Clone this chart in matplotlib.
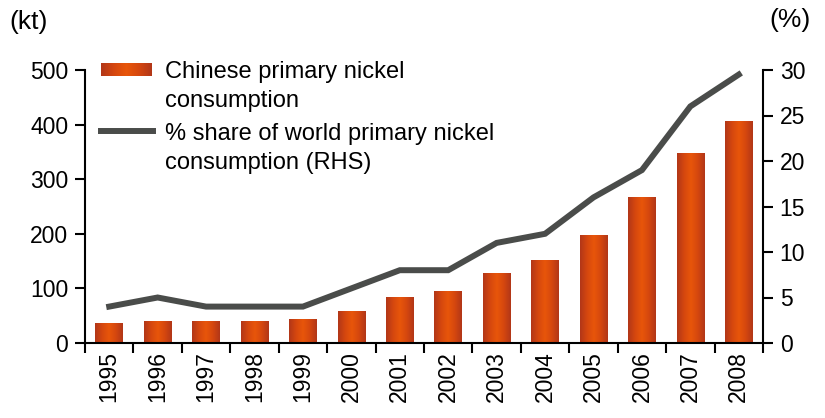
import numpy as np
import matplotlib.pyplot as plt
from matplotlib.colors import LinearSegmentedColormap

plt.rcParams['font.family'] = ['Liberation Sans', 'DejaVu Sans']

# Chinese primary nickel consumption (kt) and share of world consumption (%)
years = ['1995', '1996', '1997', '1998', '1999', '2000', '2001',
         '2002', '2003', '2004', '2005', '2006', '2007', '2008']
consumption_kt = [37, 40, 40, 40, 44, 59, 84, 95, 128, 152, 198, 267, 348, 406]
share_pct = [4, 5, 4, 4, 4, 6, 8, 8, 11, 12, 16, 19, 26, 29.5]

W, H = 825, 418
fig = plt.figure(figsize=(W / 100, H / 100), dpi=100)

def fx(px):
    return px / W

def fy(py):
    return 1 - py / H

# axes box in pixels: left 85, right 763, top 70, bottom 343
ax = fig.add_axes([fx(85), fy(343), fx(763) - fx(85), fy(70) - fy(343)])
ax2 = ax.twinx()

bar_cmap = LinearSegmentedColormap.from_list(
    'bar', ['#b23718', '#d5470f', '#e8560a', '#d5470f', '#b23718'])
grad = np.linspace(0, 1, 64).reshape(1, -1)

x = np.arange(len(years))
bars = ax.bar(x, consumption_kt, width=0.57, color='none', edgecolor='none')
for b in bars:
    x0, w, h = b.get_x(), b.get_width(), b.get_height()
    im = ax.imshow(grad, cmap=bar_cmap, aspect='auto',
                   extent=[x0, x0 + w, 0, h], zorder=2)
    im.set_clip_path(b)

ax.set_xlim(-0.5, len(years) - 0.5)
ax.set_ylim(0, 500)
ax.set_yticks([0, 100, 200, 300, 400, 500])

ax2.plot(x, share_pct, color='#4a4c4a', linewidth=4.3, solid_joinstyle='miter')
ax2.set_ylim(0, 30)
ax2.set_yticks([0, 5, 10, 15, 20, 25, 30])
ax2.set_xlim(-0.5, len(years) - 0.5)

# category labels centred, tick marks on the category boundaries
ax.set_xticks(x)
ax.set_xticklabels(years, rotation=90, fontsize=16.5)
ax.set_xticks(np.arange(-0.5, len(years), 1.0), minor=True)
ax.tick_params(axis='x', which='major', length=0, pad=6)
ax.tick_params(axis='x', which='minor', length=7, width=1.5, direction='out')
ax.tick_params(axis='y', labelsize=16.5, length=7, width=1.5, direction='out', pad=5)
ax2.tick_params(axis='y', labelsize=16.5, length=7, width=1.5, direction='out', pad=5)

for a in (ax, ax2):
    a.spines['top'].set_visible(False)
    for s in ('left', 'right', 'bottom'):
        a.spines[s].set_linewidth(1.5)
ax2.spines['left'].set_visible(False)
ax2.spines['bottom'].set_visible(False)
ax.spines['right'].set_visible(False)

fig.text(fx(9), fy(22), '(kt)', fontsize=19, va='center', ha='left')
fig.text(fx(811), fy(20), '(%)', fontsize=19, va='center', ha='right')

# legend drawn by hand
leg_ax = fig.add_axes([fx(101), fy(76), fx(152) - fx(101), fy(63) - fy(76)])
leg_ax.imshow(grad, cmap=bar_cmap, aspect='auto')
leg_ax.axis('off')
fig.add_artist(plt.Line2D([fx(101), fx(153)], [fy(131), fy(131)],
                          color='#4a4c4a', linewidth=4.3,
                          transform=fig.transFigure))
legend_lines = [('Chinese primary nickel', 72), ('consumption', 101),
                ('% share of world primary nickel', 134),
                ('consumption (RHS)', 163)]
for txt, py in legend_lines:
    fig.text(fx(165), fy(py), txt, fontsize=17, va='center', ha='left')

fig.savefig('out.png', dpi=100)
